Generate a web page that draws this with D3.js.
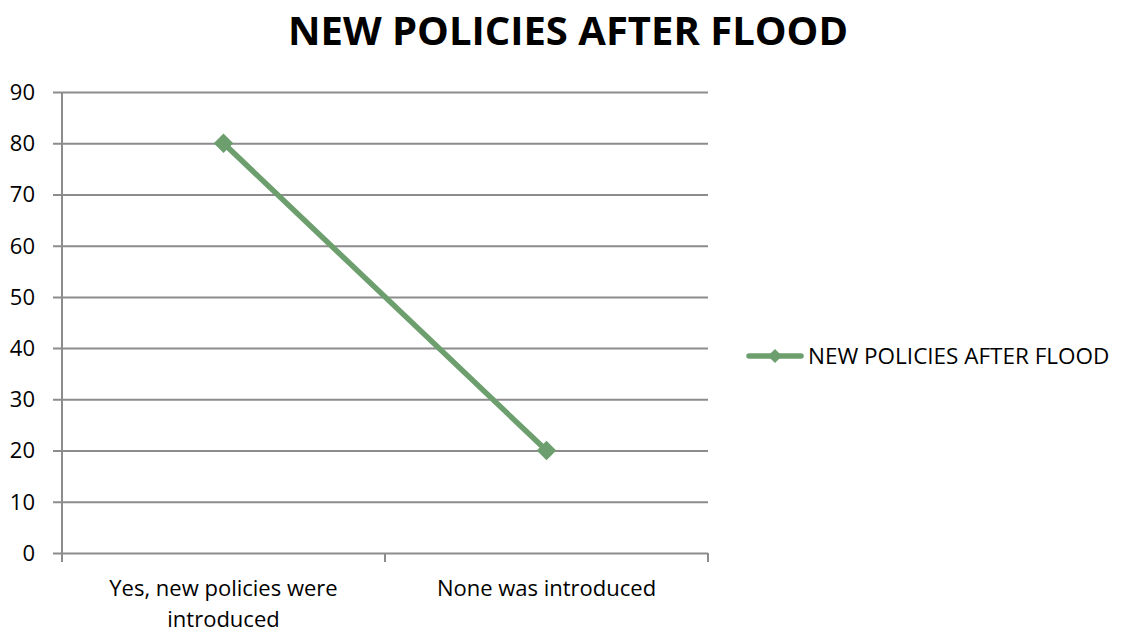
<!DOCTYPE html>
<html>
<head>
<meta charset="utf-8">
<script src="https://cdn.jsdelivr.net/npm/d3@7/dist/d3.min.js"></script>
<style>
  html, body { margin: 0; padding: 0; background: #fff; }
  svg { display: block; font-family: "Open Sans", "Noto Sans", sans-serif; }
</style>
</head>
<body>
<svg id="chart" width="1128" height="632"></svg>
<script>
// Survey answers: were new policies introduced after the flood?
const categories = ["Yes, new policies were introduced", "None was introduced"];
const categoryLines = [["Yes, new policies were", "introduced"], ["None was introduced"]];
const values = [80, 20];
const yTicks = [0, 10, 20, 30, 40, 50, 60, 70, 80, 90];
const seriesName = "NEW POLICIES AFTER FLOOD";
const chartTitle = "NEW POLICIES AFTER FLOOD";

const svg = d3.select("#chart");
const plot = { left: 62, right: 708, top: 92, bottom: 553 };
const green = "#6d9f6e";
const gridColor = "#8c8c8c";

const x = d3.scaleBand().domain(categories).range([plot.left, plot.right]).padding(0);
const y = d3.scaleLinear().domain([0, 90]).range([plot.bottom, plot.top]);

// Title
svg.append("text")
  .attr("x", 568).attr("y", 45)
  .attr("text-anchor", "middle")
  .attr("font-size", 40).attr("font-weight", 700)
  .attr("fill", "#000")
  .text(chartTitle);

// Horizontal gridlines (each extends past the axis as a tick mark)
const yAxis = d3.axisLeft(y).tickValues(yTicks).tickFormat(d3.format("d"));
const gy = svg.append("g").attr("transform", `translate(${plot.right},0)`).call(yAxis);
gy.select(".domain").remove();
gy.selectAll(".tick line")
  .attr("x1", 0).attr("x2", -(plot.right - plot.left) - 9)
  .attr("stroke", gridColor).attr("stroke-width", 2);
gy.selectAll(".tick text").remove();

// Y tick labels
svg.append("g").selectAll("text").data(yTicks).join("text")
  .attr("x", 35).attr("y", d => y(d))
  .attr("dy", "0.36em")
  .attr("text-anchor", "end")
  .attr("font-size", 22).attr("fill", "#000")
  .text(d => d);

// Y axis line
svg.append("line")
  .attr("x1", plot.left).attr("x2", plot.left)
  .attr("y1", plot.top).attr("y2", plot.bottom)
  .attr("stroke", gridColor).attr("stroke-width", 2);

// X axis category boundary ticks
const boundaries = [plot.left].concat(categories.map(c => x(c) + x.bandwidth()));
svg.append("g").selectAll("line").data(boundaries).join("line")
  .attr("x1", d => d).attr("x2", d => d)
  .attr("y1", plot.bottom).attr("y2", plot.bottom + 9)
  .attr("stroke", gridColor).attr("stroke-width", 2);

// Category labels
const labels = svg.append("g").selectAll("text").data(categories).join("text")
  .attr("x", d => x(d) + x.bandwidth() / 2)
  .attr("y", 596)
  .attr("text-anchor", "middle")
  .attr("font-size", 22).attr("fill", "#000");
labels.each(function(d, i) {
  const t = d3.select(this);
  categoryLines[i].forEach((ln, j) => {
    t.append("tspan").attr("x", x(d) + x.bandwidth() / 2).attr("dy", j === 0 ? 0 : 31).text(ln);
  });
});

// Series line
const pts = categories.map((c, i) => [x(c) + x.bandwidth() / 2, y(values[i])]);
svg.append("path")
  .attr("d", d3.line()(pts))
  .attr("fill", "none").attr("stroke", green)
  .attr("stroke-width", 5.5).attr("stroke-linecap", "round");

// Diamond markers
svg.append("g").selectAll("path").data(pts).join("path")
  .attr("transform", d => `translate(${d[0]},${d[1]}) rotate(45)`)
  .attr("d", d3.symbol().type(d3.symbolSquare).size(190))
  .attr("fill", green);

// Legend
const lg = svg.append("g").attr("transform", "translate(747,356)");
lg.append("line").attr("x1", 2).attr("x2", 54).attr("y1", 0).attr("y2", 0)
  .attr("stroke", green).attr("stroke-width", 5.5).attr("stroke-linecap", "round");
lg.append("path").attr("transform", "translate(28,0) rotate(45)")
  .attr("d", d3.symbol().type(d3.symbolSquare).size(100)).attr("fill", green);
lg.append("text").attr("x", 61).attr("y", 0).attr("dy", "0.36em")
  .attr("font-size", 22.5).attr("fill", "#000").text(seriesName);
</script>
</body>
</html>
